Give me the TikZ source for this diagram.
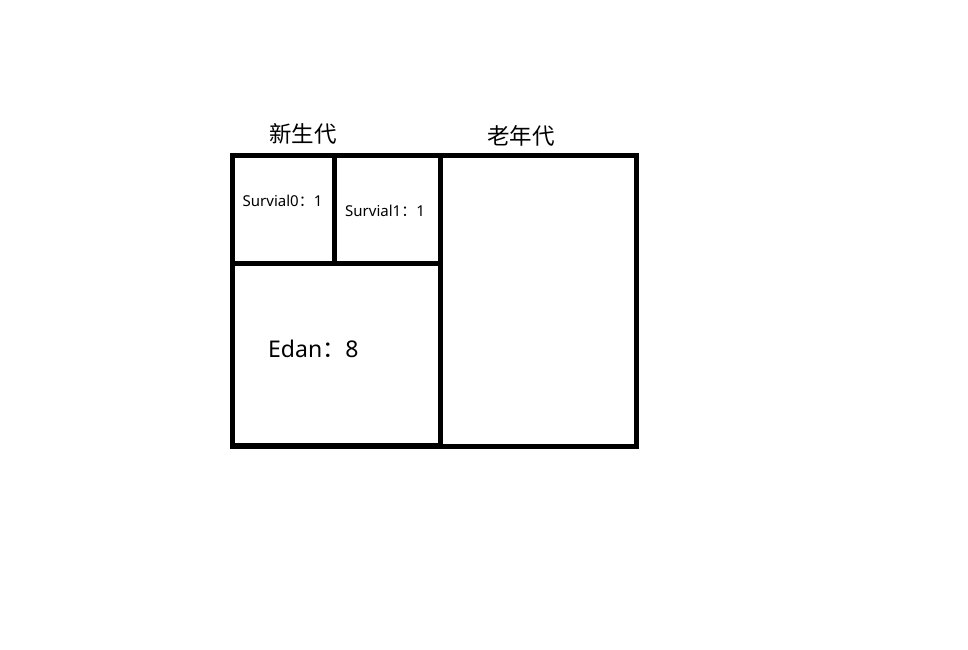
\documentclass[tikz,border=0pt]{standalone}
\usepackage{fontspec}
\setmainfont{Noto Sans}
\newfontfamily\cjk{Noto Sans CJK SC}
\begin{document}
\begin{tikzpicture}[x=1pt,y=-1pt,
  wall/.style={line width=5pt,draw=black},
  small/.style={font=\fontsize{15}{17}\selectfont,anchor=base west,inner sep=0pt},
  big/.style={font=\fontsize{23}{26}\selectfont,anchor=base west,inner sep=0pt},
  title/.style={font=\cjk\fontsize{22.5}{26}\selectfont,inner sep=0pt}]
\useasboundingbox (0,0) rectangle (968,649);
% outer frame and regions
\coordinate (tl) at (232.5,155);
\coordinate (br) at (636.5,446);
\draw[wall] (tl) rectangle (br);
\draw[wall] (232.5,445) -- (440.5,445);
\coordinate (divT) at (440.5,155);
\coordinate (divB) at (440.5,446);
\draw[wall] (divT) -- (divB);
\coordinate (hL) at (232.5,263);
\coordinate (hR) at (440.5,263);
\draw[wall] (hL) -- (hR);
\coordinate (sT) at (334.5,155);
\coordinate (sB) at (334.5,263);
\draw[wall] (sT) -- (sB);
% labels
\node[title] (young) at (303,134) {新生代};
\node[title] (old) at (521,136) {老年代};
\node[small] (s0) at (242.5,206.5) {Survial0{\cjk ：}1};
\node[small] (s1) at (345,216.5) {Survial1{\cjk ：}1};
\node[big] (eden) at (268,357) {Edan{\cjk ：}8};
\end{tikzpicture}
\end{document}
